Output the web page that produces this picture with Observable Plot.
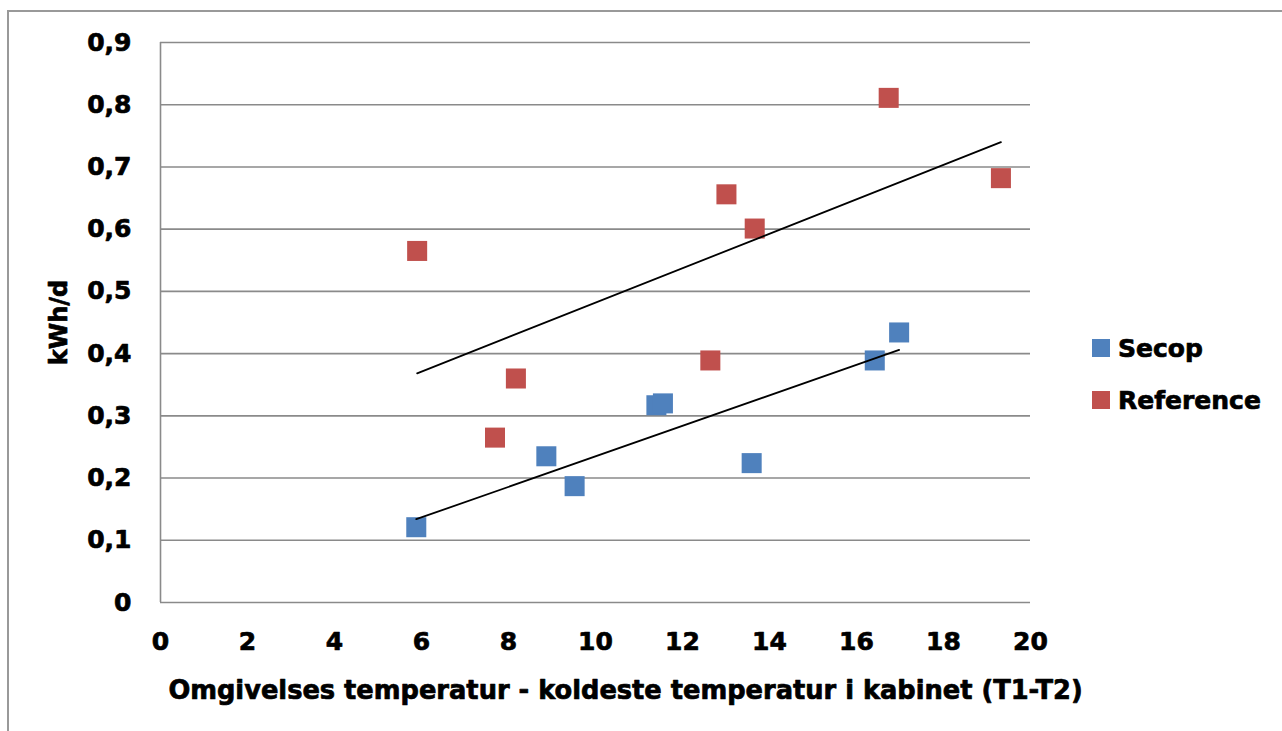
<!DOCTYPE html>
<html>
<head>
<meta charset="utf-8">
<script src="https://cdn.jsdelivr.net/npm/d3@7"></script>
<script src="https://cdn.jsdelivr.net/npm/@observablehq/plot@0.6"></script>
<style>
  html, body { margin: 0; padding: 0; background: #fff; }
  #wrap { position: relative; width: 1282px; height: 731px; overflow: hidden; }
  #frame { position: absolute; left: 7px; top: 10px; width: 1300px; height: 740px;
           border-left: 2px solid #999; border-top: 2px solid #999; box-sizing: border-box; }
  #chart { position: absolute; left: 0; top: 0; }
  #chart svg text { stroke: #000; stroke-width: 0.7px; stroke-linejoin: round; }
  .legend { position: absolute; left: 1092px; font: bold 25px "DejaVu Sans", sans-serif; color: #000;
            -webkit-text-stroke: 0.7px #000; }
  .legend .row { display: flex; align-items: center; height: 26px; position: absolute; white-space: nowrap; }
  .legend .sw { width: 18px; height: 18px; margin-right: 8px; }
</style>
</head>
<body>
<div id="wrap">
  <div id="frame"></div>
  <div id="chart"></div>
  <div class="legend">
    <div class="row" style="top:335px"><span class="sw" style="background:#4F81BD"></span>Secop</div>
    <div class="row" style="top:387px"><span class="sw" style="background:#C0504D"></span>Reference</div>
  </div>
</div>
<script>
// Temperature difference (T1-T2) and daily energy use, per cabinet type
const secopX = [5.88, 8.87, 9.52, 11.40, 11.55, 13.59, 16.42, 16.98];
const secopY = [0.121, 0.235, 0.187, 0.317, 0.320, 0.224, 0.389, 0.434];
const referenceX = [5.90, 7.69, 8.17, 12.64, 13.01, 13.66, 16.74, 19.32];
const referenceY = [0.565, 0.265, 0.360, 0.389, 0.656, 0.601, 0.811, 0.682];

const xTicks = [0, 2, 4, 6, 8, 10, 12, 14, 16, 18, 20];
const yTicks = [0, 0.1, 0.2, 0.3, 0.4, 0.5, 0.6, 0.7, 0.8, 0.9];

const seriesNames = ["Secop", "Reference"];
const seriesColors = ["#4F81BD", "#C0504D"];

const xTitle = "Omgivelses temperatur - koldeste temperatur i kabinet (T1-T2)";
const yTitle = "kWh/d";

const secop = secopX.map((x, i) => ({x, y: secopY[i], series: seriesNames[0]}));
const reference = referenceX.map((x, i) => ({x, y: referenceY[i], series: seriesNames[1]}));

const fmtY = d => d === 0 ? "0" : d.toFixed(1).replace(".", ",");
const font = "DejaVu Sans, sans-serif";

const chart = Plot.plot({
  width: 1282,
  height: 731,
  marginLeft: 160,
  marginRight: 252,
  marginTop: 42,
  marginBottom: 129,
  style: {fontFamily: font, fontWeight: "bold", background: "transparent", color: "#000"},
  x: {domain: [0, 20]},
  y: {domain: [0, 0.9]},
  color: {domain: seriesNames, range: seriesColors},
  marks: [
    Plot.ruleY(yTicks, {stroke: "#8a8a8a", strokeWidth: 1.6}),
    Plot.ruleX([0], {y1: 0, y2: 0.9, stroke: "#8a8a8a", strokeWidth: 1.6}),
    Plot.axisY({ticks: yTicks, tickSize: 0, tickPadding: 29, tickFormat: fmtY,
                fontSize: 25, fontWeight: "bold", label: null}),
    Plot.axisX({ticks: xTicks, tickSize: 0, tickPadding: 30, tickFormat: d => String(d),
                fontSize: 25, fontWeight: "bold", label: null}),
    Plot.dot(secop, {x: "x", y: "y", fill: "series", symbol: "square", r: 11.3}),
    Plot.dot(reference, {x: "x", y: "y", fill: "series", symbol: "square", r: 11.3}),
    Plot.linearRegressionY(secop, {x: "x", y: "y", ci: 0, stroke: "#000", strokeWidth: 1.8}),
    Plot.linearRegressionY(reference, {x: "x", y: "y", ci: 0, stroke: "#000", strokeWidth: 1.8}),
    Plot.text([xTitle], {frameAnchor: "bottom", dx: 30, dy: 88, text: d => d, textAnchor: "middle",
                         fontSize: 25.7, fontWeight: "bold", lineAnchor: "middle"}),
    Plot.text([yTitle], {frameAnchor: "left", dx: -101, rotate: -90, text: d => d, textAnchor: "middle",
                         fontSize: 24, fontWeight: "bold", lineAnchor: "middle"})
  ]
});
document.getElementById("chart").appendChild(chart);
</script>
</body>
</html>
